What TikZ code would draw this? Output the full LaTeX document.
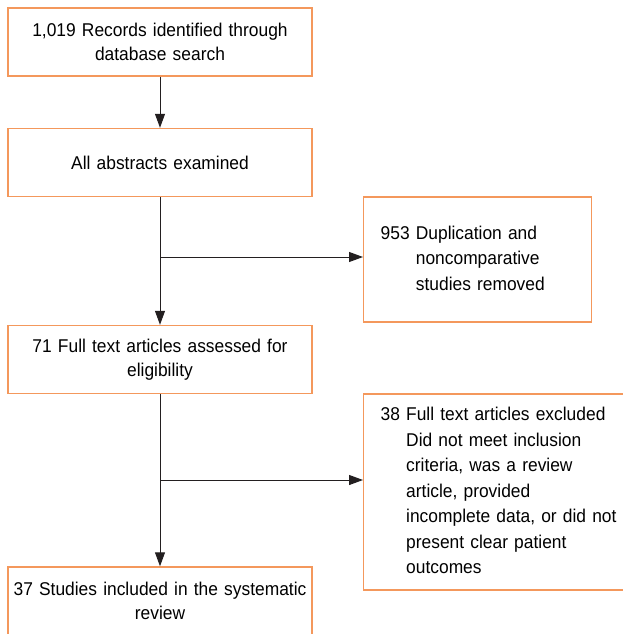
\documentclass[tikz,border=0pt]{standalone}
\usepackage{fontspec}
\setmainfont{Liberation Sans}[FakeStretch=0.94]
\usepackage{xcolor}
\usetikzlibrary{arrows.meta, positioning}
\definecolor{boxorange}{RGB}{244,152,92}
\definecolor{linegray}{RGB}{35,31,32}
\tikzstyle{flow}=[x=1pt, y=-1pt, >={Triangle[length=14pt, width=10pt]},
  font=\fontsize{18.5}{24.5}\selectfont]
\tikzstyle{stage}=[draw=boxorange, line width=1.4pt, rectangle,
  minimum width=304pt, minimum height=68pt, text width=302pt, align=center,
  inner sep=0pt]
\tikzstyle{drop}=[draw=boxorange, line width=1.4pt, rectangle,
  inner xsep=17pt, inner ysep=0pt, align=left, anchor=west,
  font=\fontsize{18.5}{25.5}\selectfont]
\tikzstyle{link}=[->, draw=linegray, line width=1pt]

\begin{document}
\begin{tikzpicture}[flow]
            \useasboundingbox (0,0) rectangle (623,634);
            \node[stage] (rec)  at (160,42)  {1,019 Records identified through\\ database search};
            \node[stage] (abs)  at (160,162.5) {All abstracts examined};
            \node[stage] (full) at (160,359.5) {71 Full text articles assessed for\\ eligibility};
            \node[stage] (inc)  at (160,601) {37 Studies included in the systematic\\ review};

            \node[drop, minimum width=228pt, minimum height=125pt, text width=194pt]
              (dup) at (363,259.5)
              {\begin{tabular}{@{}l@{ }l@{}}953 & Duplication and\\ & noncomparative\\ & studies removed\end{tabular}};
            \node[drop, minimum width=280pt, minimum height=196pt, text width=246pt]
              (exc) at (363,492)
              {\begin{tabular}{@{}l@{ }l@{}}38 & Full text articles excluded\\ & Did not meet inclusion\\ & criteria, was a review\\ & article, provided\\ & incomplete data, or did not\\ & present clear patient\\ & outcomes\end{tabular}};

            \coordinate (split1) at (160,257);
            \coordinate (split2) at (160,480);

            \path
              (rec) edge[link] (abs)
              (abs) edge[link] (full)
              (full) edge[link] (inc)
              (split1) edge[link] (split1 -| dup.west)
              (split2) edge[link] (split2 -| exc.west);
\end{tikzpicture}
\end{document}
